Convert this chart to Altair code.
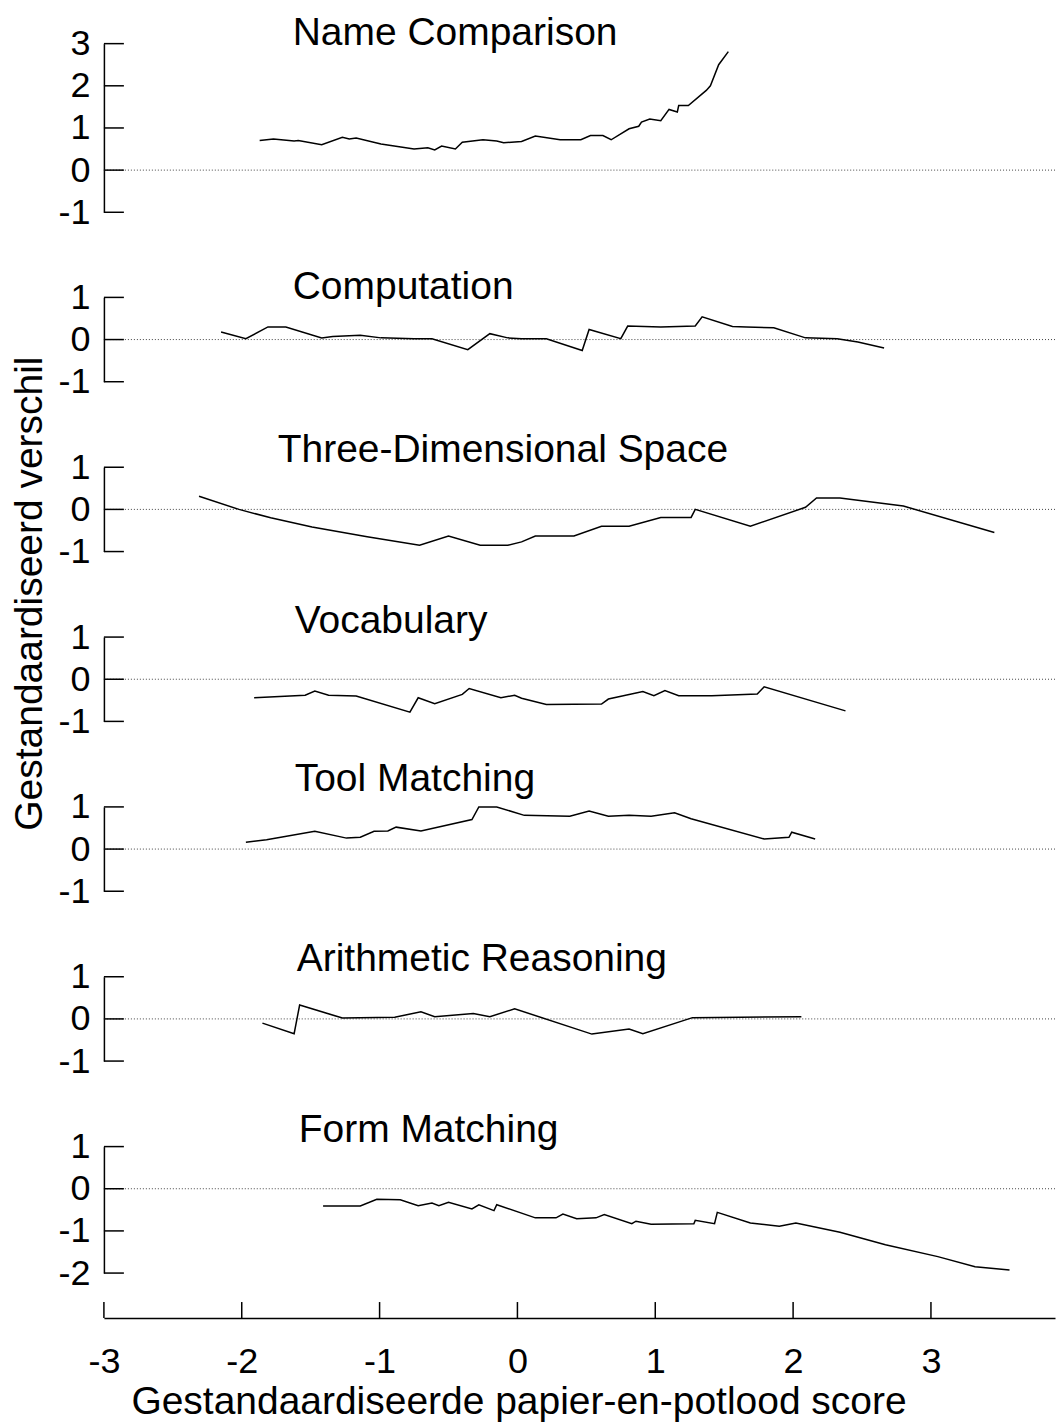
import altair as alt
import pandas as pd

FONT = "Liberation Sans"

# ---------------- data ----------------
TITLES = ["Name Comparison", "Computation", "Three-Dimensional Space", "Vocabulary",
          "Tool Matching", "Arithmetic Reasoning", "Form Matching"]
Y_TITLE = "Gestandaardiseerd verschil"
X_TITLE = "Gestandaardiseerde papier-en-potlood score"

X_TICKS = [-3, -2, -1, 0, 1, 2, 3]
X_DOMAIN = [-3, 3.9]

Y_DOMAINS = [[-1, 3], [-1, 1], [-1, 1], [-1, 1], [-1, 1], [-1, 1], [-2, 1]]
Y_TICKS = [[-1, 0, 1, 2, 3], [-1, 0, 1], [-1, 0, 1], [-1, 0, 1], [-1, 0, 1], [-1, 0, 1], [-2, -1, 0, 1]]

name_x = [-1.87, -1.77, -1.62, -1.59, -1.42, -1.27, -1.22, -1.17, -0.99, -0.75, -0.65, -0.60, -0.55,
          -0.45, -0.40, -0.25, -0.15, -0.10, 0.03, 0.13, 0.31, 0.46, 0.53, 0.62, 0.68, 0.81, 0.88,
          0.90, 0.96, 1.04, 1.10, 1.16, 1.17, 1.24, 1.37, 1.40, 1.46, 1.53]
name_y = [0.70, 0.74, 0.69, 0.70, 0.60, 0.78, 0.74, 0.76, 0.62, 0.50, 0.53, 0.48, 0.57,
          0.50, 0.66, 0.72, 0.69, 0.65, 0.68, 0.81, 0.72, 0.72, 0.82, 0.82, 0.72, 0.98, 1.04,
          1.14, 1.21, 1.17, 1.44, 1.38, 1.53, 1.53, 1.89, 2.00, 2.50, 2.81]

comp_x = [-2.15, -1.97, -1.81, -1.68, -1.42, -1.34, -1.14, -0.99, -0.75, -0.62, -0.36, -0.20, -0.07,
          0.03, 0.21, 0.47, 0.52, 0.75, 0.80, 1.04, 1.29, 1.34, 1.56, 1.66, 1.86, 2.09, 2.32, 2.47, 2.66]
comp_y = [0.18, 0.02, 0.30, 0.30, 0.04, 0.07, 0.10, 0.04, 0.02, 0.02, -0.24, 0.14, 0.04,
          0.02, 0.02, -0.26, 0.24, 0.02, 0.32, 0.30, 0.32, 0.54, 0.31, 0.30, 0.28, 0.04, 0.02, -0.06, -0.20]

space_x = [-2.31, -2.02, -1.79, -1.49, -1.09, -0.71, -0.50, -0.27, -0.07, 0.03, 0.13, 0.41, 0.61,
           0.81, 1.04, 1.26, 1.29, 1.69, 2.09, 2.17, 2.34, 2.80, 3.46]
space_y = [0.31, 0.00, -0.20, -0.42, -0.65, -0.85, -0.63, -0.85, -0.85, -0.77, -0.63, -0.63, -0.40,
           -0.40, -0.19, -0.19, 0.00, -0.40, 0.05, 0.27, 0.27, 0.08, -0.55]

vocab_x = [-1.91, -1.54, -1.47, -1.37, -1.17, -0.78, -0.72, -0.60, -0.40, -0.35, -0.12, -0.02, 0.03,
           0.21, 0.61, 0.66, 0.91, 0.99, 1.07, 1.17, 1.41, 1.74, 1.79, 2.38]
vocab_y = [-0.44, -0.38, -0.28, -0.38, -0.40, -0.78, -0.44, -0.58, -0.36, -0.22, -0.44, -0.38, -0.45,
           -0.60, -0.59, -0.47, -0.29, -0.39, -0.27, -0.39, -0.39, -0.35, -0.18, -0.75]

tool_x = [-1.97, -1.82, -1.47, -1.24, -1.14, -1.04, -0.94, -0.88, -0.70, -0.33, -0.28, -0.15, 0.05,
          0.38, 0.52, 0.66, 0.81, 0.97, 1.14, 1.26, 1.79, 1.97, 1.99, 2.16]
tool_y = [0.16, 0.22, 0.42, 0.26, 0.28, 0.42, 0.43, 0.52, 0.43, 0.70, 1.00, 1.00, 0.80,
          0.78, 0.90, 0.78, 0.80, 0.78, 0.86, 0.72, 0.24, 0.28, 0.40, 0.24]

arith_x = [-1.85, -1.62, -1.58, -1.27, -0.89, -0.70, -0.60, -0.32, -0.20, -0.02, 0.54, 0.81, 0.91, 1.27, 2.06]
arith_y = [-0.10, -0.35, 0.33, 0.02, 0.04, 0.17, 0.05, 0.13, 0.05, 0.24, -0.36, -0.24, -0.35, 0.03, 0.05]

form_x = [-1.41, -1.14, -1.02, -0.85, -0.72, -0.62, -0.57, -0.50, -0.33, -0.28, -0.17, -0.15, 0.13,
          0.28, 0.33, 0.43, 0.57, 0.63, 0.83, 0.86, 0.97, 1.28, 1.29, 1.43, 1.45, 1.69, 1.90, 2.02,
          2.34, 2.67, 3.05, 3.32, 3.57]
form_y = [-0.41, -0.41, -0.25, -0.26, -0.40, -0.34, -0.40, -0.32, -0.48, -0.38, -0.52, -0.38, -0.69,
          -0.69, -0.60, -0.71, -0.69, -0.61, -0.83, -0.77, -0.84, -0.83, -0.75, -0.83, -0.56, -0.81, -0.89, -0.81,
          -1.03, -1.33, -1.61, -1.85, -1.93]

SERIES = [(name_x, name_y), (comp_x, comp_y), (space_x, space_y), (vocab_x, vocab_y),
          (tool_x, tool_y), (arith_x, arith_y), (form_x, form_y)]

# ---------------- style ----------------
W = 952
PX_PER_UNIT = 42.2
SPACING = 85
TITLE_DX = [189, 189, 174, 191, 191, 193, 195]
TITLE_OFFSET = [-1, -2, 5, 4, 16, 6, 5]
X_AXIS_OFFSET = 45
X_TICK_LEN = 16
Y_TICK_LEN = 20
LABEL_EXPR = "'' + datum.value"


def panel(i):
    lo, hi = Y_DOMAINS[i]
    h = (hi - lo) * PX_PER_UNIT
    xs, ys = SERIES[i]
    line_df = pd.DataFrame({"x": xs, "y": ys})
    tick_df = pd.DataFrame({"y": Y_TICKS[i]})
    zero_df = pd.DataFrame({"y": [0]})
    title_df = pd.DataFrame({"t": [TITLES[i]]})

    yaxis = dict(values=Y_TICKS[i], title=None, ticks=False, tickSize=0, grid=False,
                 domain=True, domainColor="black", domainWidth=1.5, labelExpr=LABEL_EXPR,
                 labelFont=FONT, labelFontSize=36, labelColor="black", labelPadding=14,
                 labelOverlap=False, labelFlush=False)
    if i == 3:
        yaxis.update(title=Y_TITLE, titleFont=FONT, titleFontSize=39, titleFontWeight="normal",
                     titleColor="black", titleAngle=270, titleAlign="center", titleBaseline="middle",
                     titleX=-74, titleY=-44)
    yenc = alt.Y("y:Q", scale=alt.Scale(domain=[lo, hi], nice=False, zero=False), axis=alt.Axis(**yaxis))

    xscale = alt.Scale(domain=X_DOMAIN, nice=False, zero=False)
    last = i == len(TITLES) - 1
    if last:
        xaxis = alt.Axis(values=X_TICKS, title=X_TITLE, offset=X_AXIS_OFFSET, ticks=False, tickSize=0,
                         grid=False, domainColor="black", domainWidth=1.5, labelExpr=LABEL_EXPR,
                         labelFont=FONT, labelFontSize=36, labelColor="black", labelPadding=27,
                         labelFlush=False, labelOverlap=False,
                         titleFont=FONT, titleFontSize=39, titleFontWeight="normal", titleColor="black",
                         titleX=415, titleY=96, titleAlign="center", titleBaseline="alphabetic")
    else:
        xaxis = None
    xenc = alt.X("x:Q", scale=xscale, axis=xaxis)

    zero = alt.Chart(zero_df).mark_rule(color="#444", strokeWidth=1, strokeDash=[1, 2]).encode(y=yenc)
    yticks = alt.Chart(tick_df).mark_rule(color="black", strokeWidth=1.5).encode(
        y=yenc, x=alt.value(0), x2=alt.value(Y_TICK_LEN))
    line = alt.Chart(line_df).mark_line(color="black", strokeWidth=1.5).encode(x=xenc, y=yenc)
    title = alt.Chart(title_df).mark_text(
        align="left", baseline="alphabetic", font=FONT, fontSize=39, color="black"
    ).encode(text="t:N", x=alt.value(TITLE_DX[i]), y=alt.value(-TITLE_OFFSET[i]))
    layers = [zero, yticks, line, title]
    if last:
        xt_df = pd.DataFrame({"x": X_TICKS})
        xticks = alt.Chart(xt_df).mark_rule(color="black", strokeWidth=1.5).encode(
            x=xenc, y=alt.value(h + X_AXIS_OFFSET - X_TICK_LEN), y2=alt.value(h + X_AXIS_OFFSET))
        layers.append(xticks)

    return alt.layer(*layers).properties(width=W, height=h)


chart = alt.vconcat(*[panel(i) for i in range(len(TITLES))], spacing=SPACING, bounds="flush").properties(
    padding={"left": 2, "top": 5, "right": 0, "bottom": 0}
).configure(background="white").configure_view(stroke=None)

chart.save("out.html", embed_options={"renderer": "svg", "actions": False})
